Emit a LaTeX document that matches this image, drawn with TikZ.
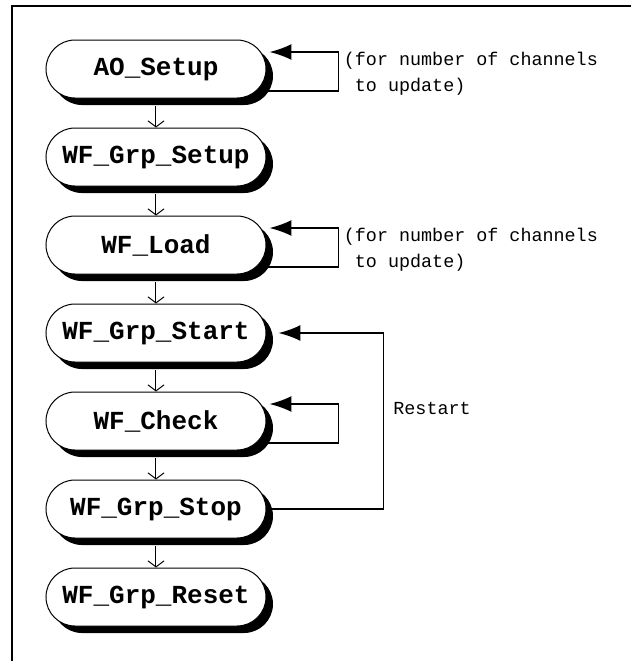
\documentclass[tikz,border=0pt]{standalone}
\usepackage{fontspec}
\setmonofont{Liberation Mono}
\usetikzlibrary{arrows.meta,positioning,shapes.misc,shadows}
\tikzset{
  stage/.style={rounded rectangle,draw,line width=0.5pt,fill=white,
    minimum width=110pt,minimum height=29pt,inner sep=0pt,
    font=\fontsize{13}{15}\ttfamily\bfseries,
    drop shadow={shadow xshift=3.5pt,shadow yshift=-3.5pt,fill=black,opacity=1}},
  next/.style={-{Straight Barb[length=3pt,width=8pt]},line width=0.5pt},
  back/.style={-{Latex[length=11pt,width=8pt]},line width=0.8pt},
  note/.style={font=\fontsize{9.2}{13}\ttfamily,align=left,inner sep=0pt},
}
\begin{document}
\begin{tikzpicture}[x=0.5pt,y=-0.5pt,node distance=14.5pt]
  \useasboundingbox (0,0) rectangle (631,661);
  \draw[line width=1pt] (12,661) -- (12,6) -- (631,6);

  \node[stage] (aosetup) at (156,69) {AO\_Setup};
  \node[stage,below=of aosetup] (grpsetup) {WF\_Grp\_Setup};
  \node[stage,below=of grpsetup] (load) {WF\_Load};
  \node[stage,below=of load] (grpstart) {WF\_Grp\_Start};
  \node[stage,below=of grpstart] (check) {WF\_Check};
  \node[stage,below=of check] (grpstop) {WF\_Grp\_Stop};
  \node[stage,below=of grpstop] (grpreset) {WF\_Grp\_Reset};

  \foreach \a/\b in {aosetup/grpsetup,grpsetup/load,load/grpstart,
    grpstart/check,check/grpstop,grpstop/grpreset}
    \draw[next] ([yshift=-3.5pt]\a.south) -- (\b.north);

  \foreach \n in {aosetup,load,check}
    \draw[back] ([yshift=-11pt]\n.east) -- ++(72,0) |- ([xshift=1.5pt,yshift=8.5pt]\n.east);

  \node[note,anchor=north west] (aonote) at ([xshift=38.5pt,yshift=8.5pt]aosetup.east)
    {(for number of channels\\~to update)};
  \node[note,anchor=north west] (loadnote) at ([xshift=38.5pt,yshift=8.5pt]load.east)
    {(for number of channels\\~to update)};

  \draw[back] (grpstop.east) -- ++(117,0) |- ([xshift=6pt]grpstart.east);
  \node[note,anchor=west] (restart) at (393,408) {Restart};
\end{tikzpicture}
\end{document}
